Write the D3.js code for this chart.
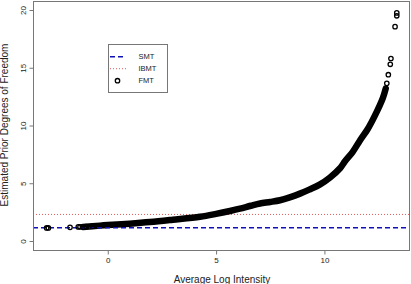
<!DOCTYPE html>
<html><head><meta charset="utf-8">
<script src="https://cdn.jsdelivr.net/npm/d3@7"></script>
<style>body{margin:0;background:#fff}svg{display:block;font-family:"Liberation Sans",Arial,Helvetica,sans-serif}</style>
</head><body><svg id="c" width="411" height="284"></svg>
<script>
// ---- data ----
const xTicks = [0, 5, 10];
const yTicks = [0, 5, 10, 15, 20];
const smtLevel = 1.15;
const ibmtLevel = 2.3;
// dense FMT trend (thick band of overlapping points)
const fmtDenseX = [-1.14, -0.36, 0, 1.0, 1.95, 3.0, 4.26, 5.0, 5.64, 6.1, 6.6, 7.03, 7.5, 7.95, 8.4, 8.87, 9.3, 9.8, 10.26, 10.72, 10.95, 11.3, 11.64, 12.0, 12.34, 12.7, 12.83];
const fmtDenseY = [1.22, 1.33, 1.38, 1.5, 1.64, 1.84, 2.1, 2.35, 2.6, 2.8, 3.05, 3.25, 3.38, 3.53, 3.78, 4.1, 4.45, 4.9, 5.5, 6.3, 6.9, 7.7, 8.7, 9.7, 10.9, 12.4, 13.2];
// isolated FMT points at both ends
const fmtSparseX = [-2.82, -2.74, -1.74, -1.36, -1.28, -1.0, -0.7, 12.88, 12.95, 13.04, 13.07, 13.26, 13.34, 13.34];
const fmtSparseY = [1.13, 1.13, 1.18, 1.22, 1.23, 1.25, 1.28, 13.65, 14.4, 15.3, 15.8, 18.56, 19.5, 19.75];
const legendLabels = ["SMT", "IBMT", "FMT"];

const svg = d3.select("#c");
const L = 33, R = 410, T = 1, B = 250;
const x = d3.scaleLinear().domain([-3.45, 13.95]).range([L, R]);
const y = d3.scaleLinear().domain([-0.78, 20.78]).range([B, T]);
const boxCol = "#777";
const fs = "Liberation Sans, Arial, Helvetica, sans-serif";

// reference lines
svg.append("line").attr("x1", L).attr("x2", R).attr("y1", y(ibmtLevel)).attr("y2", y(ibmtLevel))
  .attr("stroke", "#e05a5a").attr("stroke-width", 1).attr("stroke-dasharray", "1,2");

// dense FMT
const dense = fmtDenseX.map((v, i) => [v, fmtDenseY[i]]);
svg.append("path").datum(dense)
  .attr("d", d3.line().x(d => x(d[0])).y(d => y(d[1])).curve(d3.curveCatmullRom))
  .attr("fill", "none").attr("stroke", "#000").attr("stroke-width", 6.5).attr("stroke-linecap", "round");

svg.append("line").attr("x1", L).attr("x2", R).attr("y1", y(smtLevel)).attr("y2", y(smtLevel))
  .attr("stroke", "#1010b8").attr("stroke-width", 1.6).attr("stroke-dasharray", "5,3");

// sparse FMT
svg.selectAll("circle.fmt").data(fmtSparseX.map((v, i) => [v, fmtSparseY[i]])).enter()
  .append("circle").attr("class", "fmt")
  .attr("cx", d => x(d[0])).attr("cy", d => y(d[1])).attr("r", 2.2)
  .attr("fill", "none").attr("stroke", "#000").attr("stroke-width", 1.3);

// box
svg.append("rect").attr("x", L + 0.5).attr("y", T + 0.5).attr("width", R - L - 1).attr("height", B - T)
  .attr("fill", "none").attr("stroke", boxCol).attr("stroke-width", 1);

// axes
const xa = svg.append("g").attr("transform", `translate(0,${B + 0.5})`)
  .call(d3.axisBottom(x).tickValues(xTicks).tickSize(4).tickFormat(d3.format("d")));
xa.select(".domain").attr("stroke", boxCol).attr("d", `M${x(0)},0H${x(10)}`);
xa.selectAll(".tick line").attr("stroke", boxCol);
xa.selectAll(".tick text").attr("font-size", 8).attr("font-family", fs).attr("fill", "#222").attr("y", 7).attr("dy", "0.71em");

const ya = svg.append("g").attr("transform", `translate(${L + 0.5},0)`)
  .call(d3.axisLeft(y).tickValues(yTicks).tickSize(4).tickFormat(d3.format("d")));
ya.select(".domain").attr("stroke", boxCol).attr("d", `M0,${y(0)}V${y(20)}`);
ya.selectAll(".tick line").attr("stroke", boxCol);
ya.selectAll(".tick text").attr("font-size", 8).attr("font-family", fs).attr("fill", "#222")
  .attr("x", null).attr("dy", null).attr("text-anchor", "middle")
  .attr("transform", "translate(-8,0) rotate(-90)");

svg.append("text").attr("x", (L + R) / 2 + 0.5).attr("y", 282.5).attr("text-anchor", "middle")
  .attr("font-size", 10).attr("fill", "#222").text("Average Log Intensity");
svg.append("text").attr("transform", `translate(8,125) rotate(-90)`).attr("text-anchor", "middle")
  .attr("font-size", 10).attr("fill", "#222").text("Estimated Prior Degrees of Freedom");

// legend
const lg = svg.append("g");
lg.append("rect").attr("x", 108.5).attr("y", 44.5).attr("width", 59).attr("height", 48)
  .attr("fill", "#fff").attr("stroke", boxCol);
const rows = [56.7, 68.7, 80.7];
lg.append("line").attr("x1", 110).attr("x2", 125).attr("y1", rows[0]).attr("y2", rows[0])
  .attr("stroke", "#1010b8").attr("stroke-width", 1.6).attr("stroke-dasharray", "5,3");
lg.append("line").attr("x1", 110).attr("x2", 126).attr("y1", rows[1]).attr("y2", rows[1])
  .attr("stroke", "#e05a5a").attr("stroke-width", 1).attr("stroke-dasharray", "1,2");
lg.append("circle").attr("cx", 117.5).attr("cy", rows[2]).attr("r", 2.2)
  .attr("fill", "none").attr("stroke", "#000").attr("stroke-width", 1.3);
lg.selectAll("text.lg").data(legendLabels).enter().append("text").attr("class", "lg")
  .attr("x", 138.5).attr("y", (d, i) => rows[i]).attr("dy", "0.36em")
  .attr("font-size", 7.5).attr("fill", "#222").text(d => d);
</script></body></html>
